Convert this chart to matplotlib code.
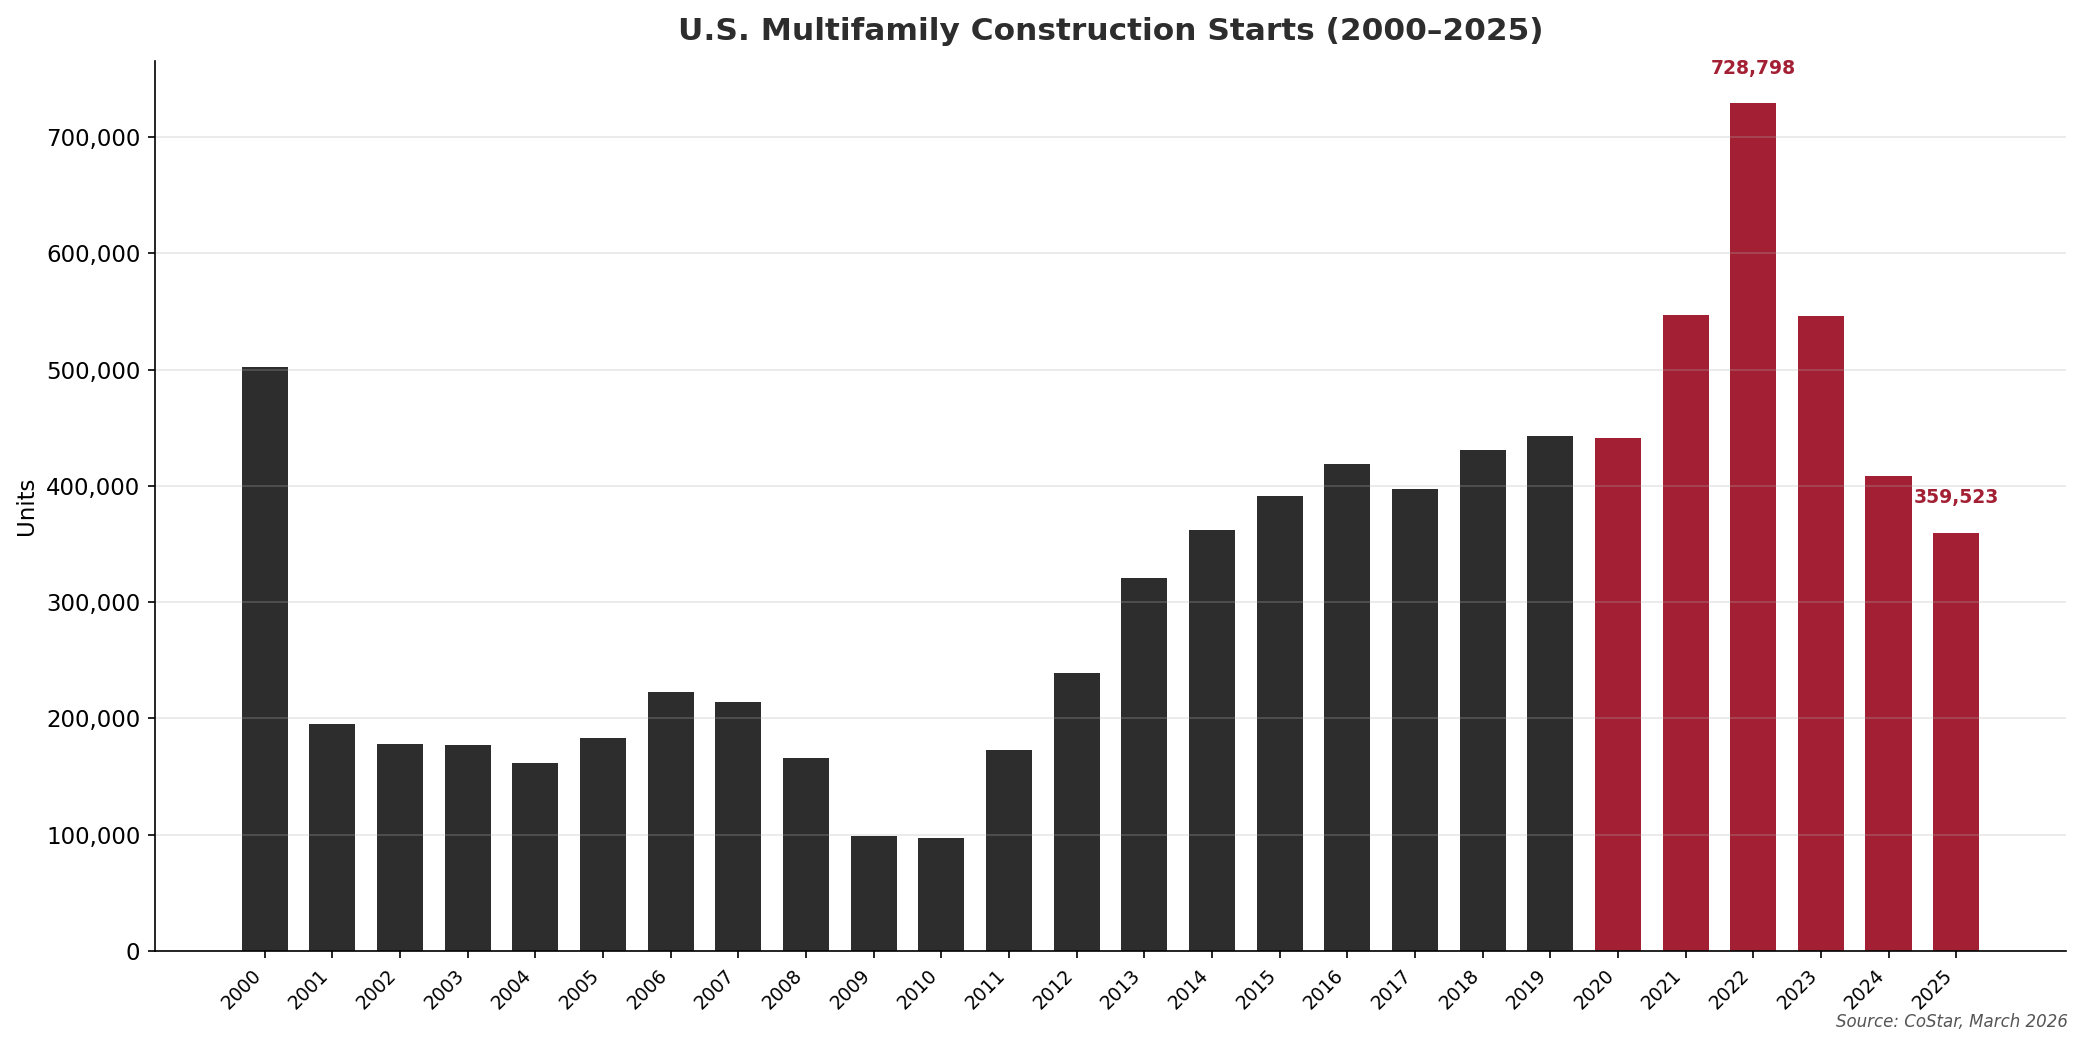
import matplotlib
matplotlib.use("Agg")
import matplotlib.pyplot as plt
from matplotlib.ticker import FuncFormatter

years = [str(y) for y in range(2000, 2026)]
starts = [
    502000, 195000, 178000, 177000, 162000, 183000, 223000, 214000, 166000,
    99000, 97000, 173000, 239000, 321000, 362000, 391000, 419000, 397000,
    431000, 443000, 441000, 547000, 728798, 546000, 408000, 359523,
]
highlight_from = "2020"
labelled_years = ["2022", "2025"]

dark = "#2d2d2d"
red = "#a31f34"

fig = plt.figure(figsize=(2085 / 150, 1047 / 150), dpi=150)
ax = fig.add_axes([0.0743, 0.0917, 0.9166, 0.85])

colors = [red if y >= highlight_from else dark for y in years]
x = range(len(years))
ax.bar(x, starts, width=0.68, color=colors)

peak = max(starts)
for i, (y, v) in enumerate(zip(years, starts)):
    if y in labelled_years:
        ax.text(i, v + peak * 0.03, f"{v:,}", ha="center", va="bottom",
                fontsize=9, fontweight="bold", color=red)

ax.set_xticks(list(x))
ax.set_xticklabels(years, rotation=45, ha="right", fontsize=9)
ax.tick_params(axis="y", labelsize=11)
ax.yaxis.set_major_formatter(FuncFormatter(lambda v, _: f"{int(v):,}"))
ax.set_ylabel("Units", fontsize=11)
ax.set_title("U.S. Multifamily Construction Starts (2000–2025)",
             fontsize=15, fontweight="bold", color=dark, pad=10)

ax.yaxis.grid(True, alpha=0.3)
ax.spines["top"].set_visible(False)
ax.spines["right"].set_visible(False)

fig.text(0.992, 0.024, "Source: CoStar, March 2026", ha="right", va="center",
         fontsize=8, style="italic", color="#555555")

fig.savefig("out.png", dpi=150)
